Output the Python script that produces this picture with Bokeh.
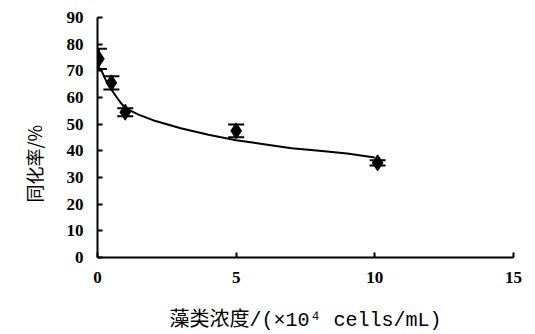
from bokeh.plotting import figure
from bokeh.models import Range1d, Whisker, TeeHead, ColumnDataSource, FixedTicker, Title
from bokeh.embed import file_html
from bokeh.resources import INLINE

# measured points (mean, error)
conc = [0.05, 0.5, 1.0, 5.0, 10.1]
rate = [74.5, 65.5, 54.5, 47.5, 35.5]
err = [3.8, 2.5, 1.5, 2.4, 1.0]

# fitted curve
curve_x = [0.1, 0.3, 0.5, 0.8, 1.0, 1.5, 2.0, 3.0, 4.0, 5.0, 6.0, 7.0, 8.0, 9.0, 10.0]
curve_y = [71.0, 66.5, 63.0, 58.5, 56.0, 53.5, 51.5, 48.5, 46.0, 44.0, 42.5, 41.0, 40.0, 39.0, 37.5]

x_ticks = [0, 5, 10, 15]
y_ticks = [0, 10, 20, 30, 40, 50, 60, 70, 80, 90]

p = figure(width=535, height=334, output_backend="svg", toolbar_location=None,
           x_range=Range1d(0, 15), y_range=Range1d(0, 90),
           min_border_left=97, min_border_right=22, min_border_top=17, min_border_bottom=77)
p.outline_line_color = None
p.grid.grid_line_color = None
p.background_fill_color = "white"

src = ColumnDataSource(dict(x=conc, y=rate,
                            lo=[r - e for r, e in zip(rate, err)],
                            hi=[r + e for r, e in zip(rate, err)]))

p.line(curve_x, curve_y, line_color="black", line_width=2)
p.add_layout(Whisker(source=src, base="x", lower="lo", upper="hi",
                     line_color="black", line_width=2,
                     upper_head=TeeHead(size=16, line_color="black", line_width=2),
                     lower_head=TeeHead(size=16, line_color="black", line_width=2)))
p.scatter("x", "y", source=src, marker="diamond", size=16, color="black")

for ax in (p.xaxis[0], p.yaxis[0]):
    ax.axis_line_width = 2
    ax.axis_line_color = "black"
    ax.major_tick_in = 5
    ax.major_tick_out = 0
    ax.minor_tick_line_color = None
    ax.major_tick_line_width = 2
    ax.major_label_text_font = "Liberation Serif"
    ax.major_label_text_font_size = "17px"
    ax.major_label_text_font_style = "bold"
    ax.major_label_text_color = "black"
    ax.axis_label_text_font_style = "normal"
    ax.axis_label_text_color = "black"

p.xaxis.ticker = FixedTicker(ticks=x_ticks)
p.yaxis.ticker = FixedTicker(ticks=y_ticks)
p.xaxis.major_label_standoff = 14
p.yaxis.major_label_standoff = 14

p.xaxis.axis_label = "藻类浓度/(×10⁴ cells/mL)"
p.xaxis.axis_label_text_font = "Liberation Mono, Noto Sans CJK SC"
p.xaxis.axis_label_text_font_size = "20px"
p.xaxis.axis_label_standoff = 23

# y-axis title, a bit below the frame centre as in the reference
p.add_layout(Title(text="同化率/%", align="left", offset=55, standoff=33,
                   text_font="Noto Sans CJK SC", text_font_size="18px",
                   text_font_style="normal", text_color="black"), "left")

open("out.html", "w").write(file_html(p, INLINE))
